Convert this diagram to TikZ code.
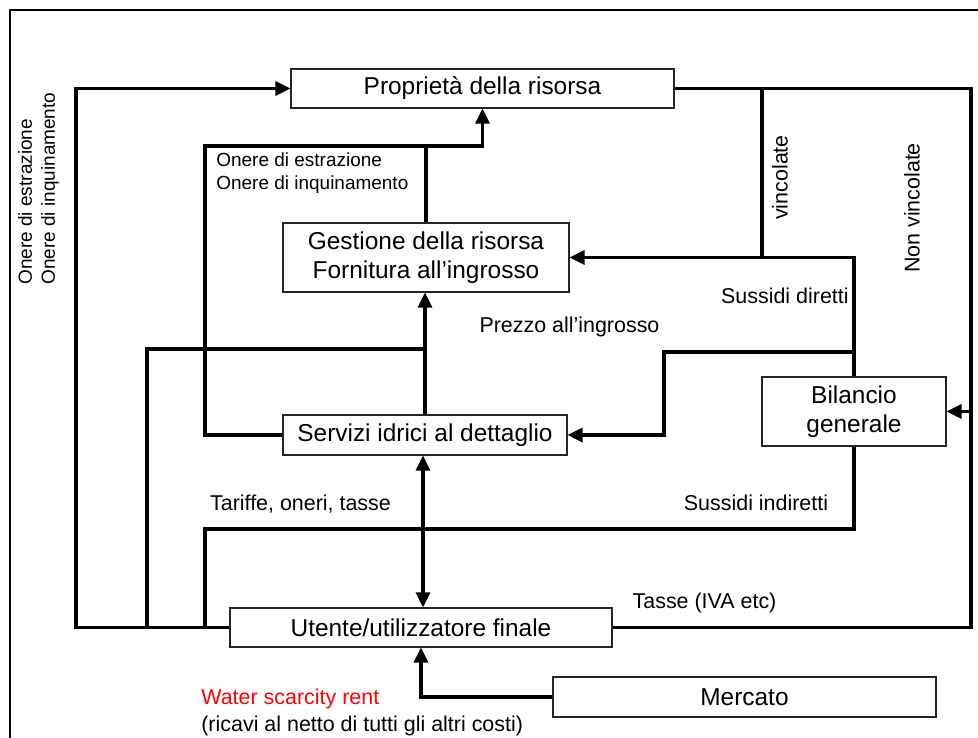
\documentclass[tikz,border=0pt]{standalone}
\usepackage{fontspec}
\setmainfont{Liberation Sans}
\usetikzlibrary{arrows.meta}
\newcommand{\blockfont}{\fontsize{13.9pt}{16.5pt}\selectfont}
\newcommand{\labfont}{\fontsize{12.2pt}{15.4pt}\selectfont}
\newcommand{\onerefont}{\fontsize{10.8pt}{13.1pt}\selectfont}
\definecolor{rentred}{RGB}{255,0,0}

\begin{document}
\begin{tikzpicture}[
    block/.style={draw=black!85, line width=0.6pt, fill=white, inner sep=0pt, align=center, font=\blockfont},
    flow/.style={line width=1.8pt},
    arr/.style={flow, -{Triangle[length=0.30cm,width=0.28cm]}},
    arrboth/.style={flow, {Triangle[length=0.30cm,width=0.28cm]}-{Triangle[length=0.30cm,width=0.28cm]}},
    lab/.style={font=\labfont, inner sep=0pt}]
        \useasboundingbox (0,0) rectangle (19.56,14.76);
        \draw[line width=1.1pt] (0.2,0) -- (0.2,14.56) -- (19.56,14.56);
        % boxes
        \node[block, minimum width=7.66cm, minimum height=0.78cm] (prop) at (9.65,12.99) {Proprietà della risorsa};
        \node[block, minimum width=5.72cm, minimum height=1.38cm] (gest) at (8.52,9.61) {Gestione della risorsa\\Fornitura all’ingrosso};
        \node[block, minimum width=5.68cm, minimum height=0.80cm] (serv) at (8.50,6.06) {Servizi idrici al dettaglio};
        \node[block, minimum width=7.64cm, minimum height=0.78cm] (utente) at (8.42,2.21) {Utente/utilizzatore finale};
        \node[block, minimum width=3.68cm, minimum height=1.38cm] (bil) at (17.08,6.53) {Bilancio\\generale};
        \node[block, minimum width=7.66cm, minimum height=0.80cm] (merc) at (14.89,0.82) {Mercato};
        % junctions
        \coordinate (loopA) at (1.52,2.21);
        \coordinate (loopB) at (2.94,2.21);
        \coordinate (loopC) at (4.10,2.21);
        \coordinate (jG) at (8.52,7.78);
        \coordinate (jP) at (4.10,11.84);
        \coordinate (jT) at (8.46,4.18);
        \coordinate (cR) at (19.42,2.21);
        \coordinate (vinc) at (15.24,12.99);
        \coordinate (jS) at (13.28,7.72);
        % connectors
        \draw[arr] (utente.west) -- (loopA) |- (prop.west);
        \draw[flow] (loopB) |- (jG);
        \draw[arr] (serv.north) -- (serv.north |- gest.south);
        \draw[arr] (serv.west) -| (jP) -| (prop.south);
        \draw[flow] (gest.north) -- (gest.north |- jP);
        \draw[flow] (loopC) |- (jT);
        \draw[arrboth] (serv.south -| jT) -- (utente.north -| jT);
        \draw[flow] (bil.south) |- (jT);
        \draw[flow] (prop.east) -| (cR) -- (utente.east);
        \draw[arr] (bil.east -| cR) -- (bil.east);
        \draw[flow] (vinc) -- (vinc |- gest.east);
        \draw[arr] (bil.north) -- (bil.north |- gest.east) -- (gest.east);
        \draw[arr] (bil.north |- jS) -- (jS) |- (serv.east);
        \draw[arr] (merc.west) -| (utente.south);
        % labels
        \node[lab, rotate=90, anchor=west, align=left, font=\onerefont] (onereL) at (0.77,9.06) {Onere di estrazione\\Onere di inquinamento};
        \node[lab, anchor=west, align=left, font=\onerefont] (onereM) at (4.32,11.29) {Onere di estrazione\\Onere di inquinamento};
        \node[lab, rotate=90] (vincLab) at (15.60,11.21) {vincolate};
        \node[lab, rotate=90] (nonvincLab) at (18.24,10.60) {Non vincolate};
        \node[lab, anchor=east] (sussD) at (16.98,8.84) {Sussidi diretti};
        \node[lab] (prezzo) at (11.39,8.22) {Prezzo all’ingrosso};
        \node[lab] (tariffe) at (6.01,4.68) {Tariffe, oneri, tasse};
        \node[lab] (sussI) at (15.12,4.70) {Sussidi indiretti};
        \node[lab] (tasse) at (14.09,2.70) {Tasse (IVA etc)};
        \node[lab, anchor=west, align=left] (rent) at (4.02,0.51) {\textcolor{rentred}{Water scarcity rent}\\(ricavi al netto di tutti gli altri costi)};
    \end{tikzpicture}
\end{document}
